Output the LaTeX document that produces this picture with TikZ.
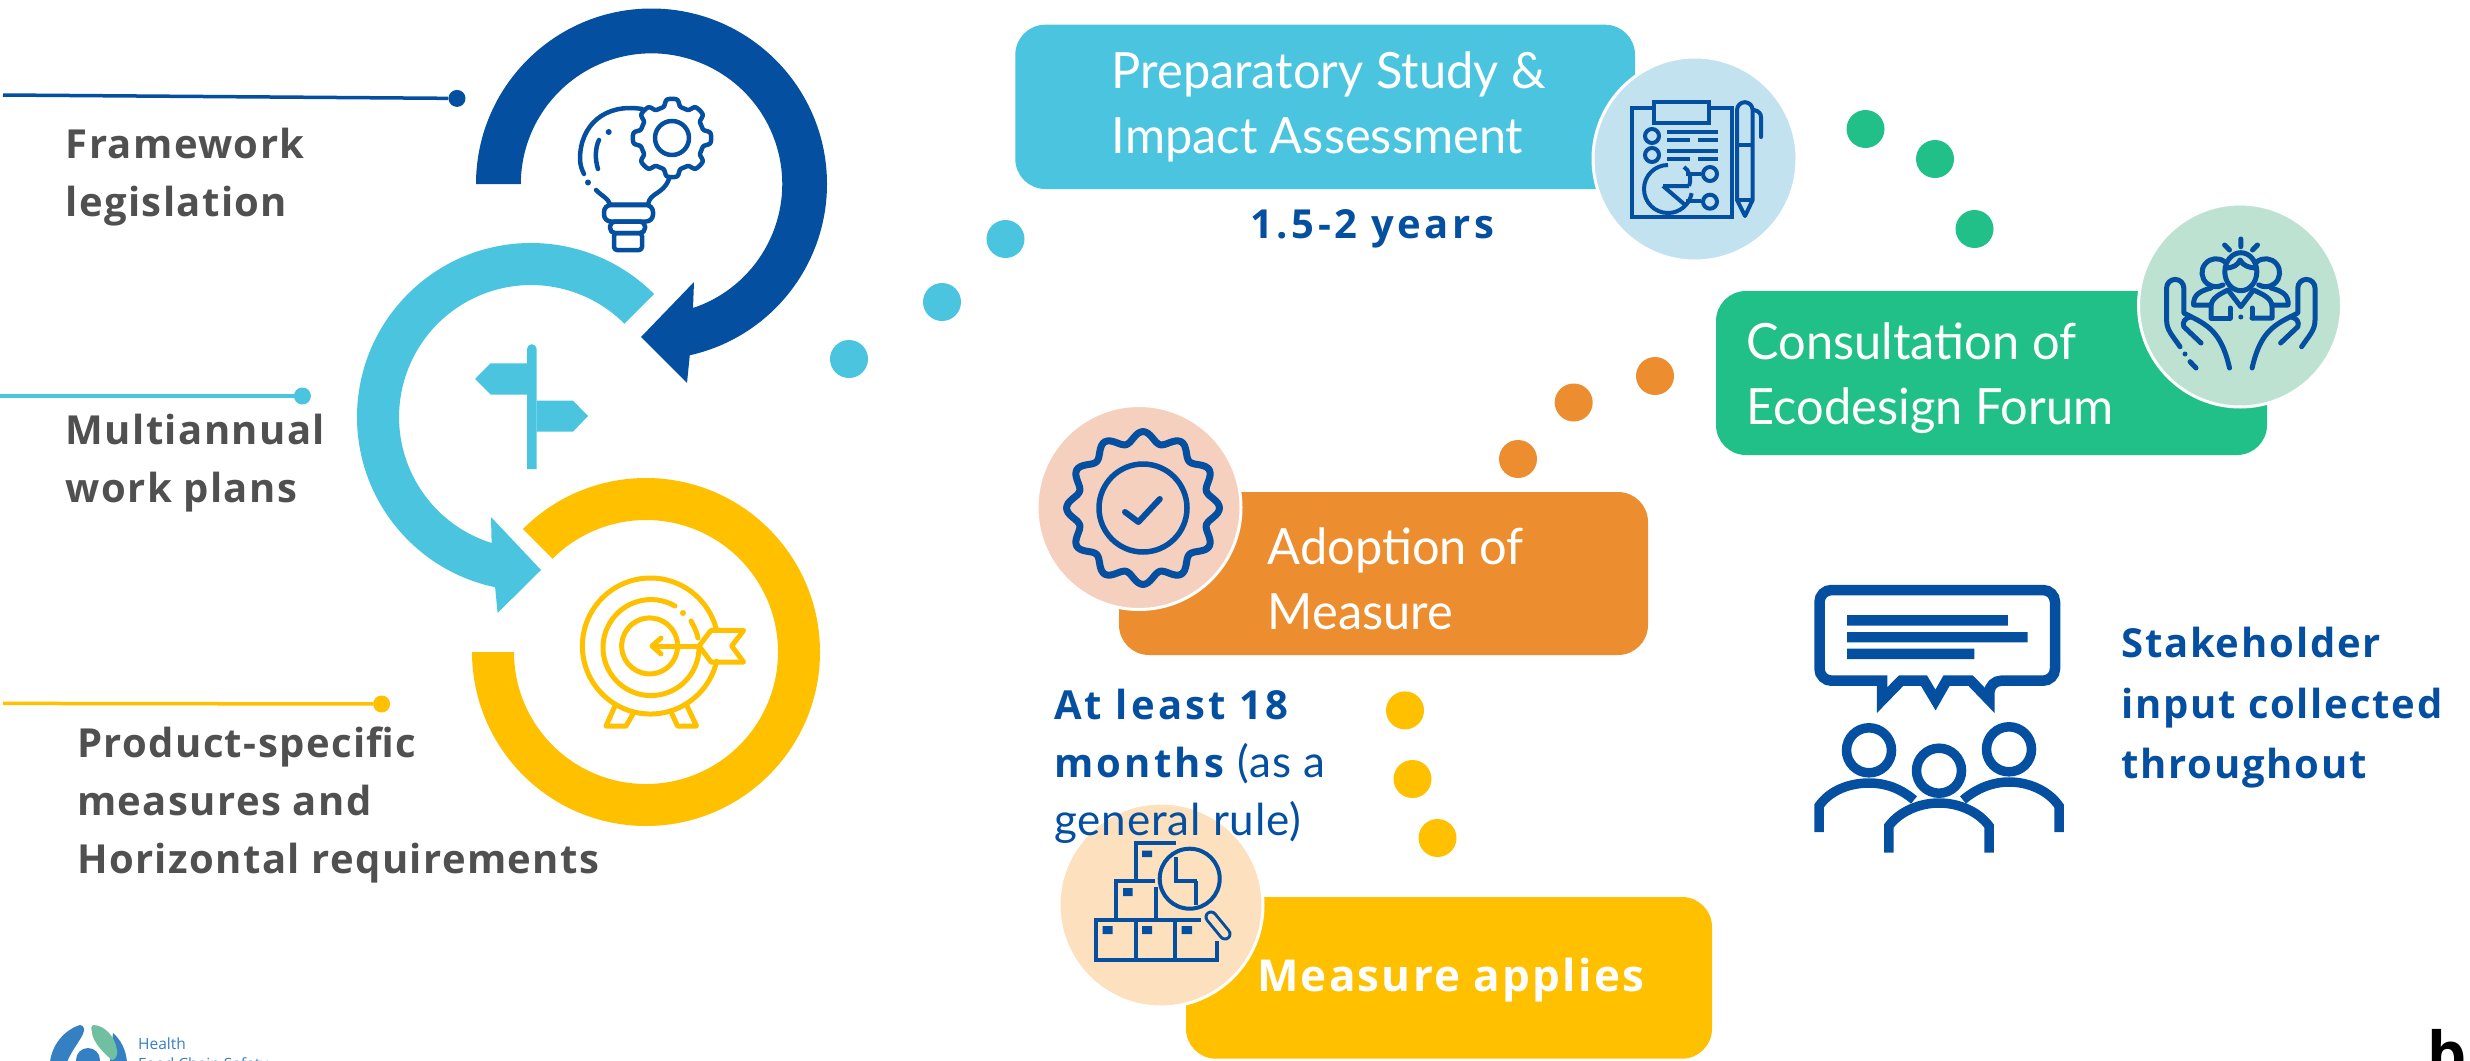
\documentclass[tikz,border=0pt]{standalone}
\usepackage{fontspec}
\setmainfont{Open Sans}
\newfontfamily\gill[FakeStretch=0.975]{Lato}
\newfontfamily\gillb[LetterSpace=2]{Lato}
\newfontfamily\osA[LetterSpace=3.5]{Open Sans}
\newfontfamily\osB[LetterSpace=5]{Open Sans}
\newfontfamily\osS[LetterSpace=4.5]{Open Sans}
\newfontfamily\osC[LetterSpace=8]{Open Sans}
\newfontfamily\osD[LetterSpace=9]{Open Sans}
\usetikzlibrary{calc}
\definecolor{navy}{HTML}{054FA0}
\definecolor{sky}{HTML}{4BC5DF}
\definecolor{gold}{HTML}{FFC000}
\definecolor{leaf}{HTML}{20C088}
\definecolor{tang}{HTML}{EC8E2F}
\definecolor{greyt}{HTML}{505050}
\definecolor{cskyl}{HTML}{C1E2EE}
\definecolor{cleafl}{HTML}{BDE2D1}
\definecolor{ctangl}{HTML}{F5D0BF}
\definecolor{cgoldl}{HTML}{FDE0BD}
\definecolor{logob}{HTML}{3580C3}
\definecolor{logog}{HTML}{6FBFA0}
\tikzset{
 box/.style={rounded corners=30pt},
 badge/.style={draw=white,line width=3pt},
 dotn/.style={circle,inner sep=0pt,minimum size=38pt},
 endn/.style={circle,inner sep=0pt,minimum size=17pt},
 lbl/.style={inner sep=0pt,align=left,anchor=north west,text=greyt,font=\osA\fontsize{40}{58}\selectfont\bfseries},
 ttl/.style={inner sep=0pt,align=left,anchor=north west,text=white,font=\gill\fontsize{50}{65}\selectfont},
 ink/.style={draw=navy,line width=4.5pt,line cap=round,line join=round,fill=none},
 handink/.style={draw=navy,line width=5pt,line cap=round,line join=round,fill=none},
 thin/.style={draw=navy,line width=4pt,line cap=butt,line join=miter,fill=none},
}
\begin{document}
\begin{tikzpicture}[x=1pt,y=1pt,yscale=-1]
\useasboundingbox (0,0) rectangle (2470,1060);
\clip (0,0) rectangle (2470,1060);
% rings
\fill[navy] (651.5,184)+(180:175.5pt) arc[start angle=180,end angle=437.4,radius=175.5pt] -- (687,383) -- (641,337) -- (694,282) -- (693,308) arc[start angle=431.5,end angle=180,radius=130.7pt] -- cycle;
\fill[sky] ($(531,417)+(-45:174pt)$) arc[start angle=-45,end angle=-258.1,radius=174pt] -- (497.6,613) -- (541,570) -- (491,517) -- (491.6,543) arc[start angle=-252.6,end angle=-45,radius=132pt] -- cycle;
\fill[gold] ($(646,652)+(225:174pt)$) arc[start angle=225,end angle=540,radius=174pt] -- ($(646,652)+(180:132pt)$) arc[start angle=540,end angle=225,radius=132pt] -- cycle;
% leader lines
\node[endn,fill=navy] (e1) at (457,98.4) {};
\coordinate (s1) at (3,95);
\draw[navy,line width=3.5pt] (s1) -- (e1);
\node[endn,fill=sky] (e2) at (302.4,396) {};
\coordinate (s2) at (0,396);
\draw[sky,line width=3.5pt] (s2) -- (e2);
\node[endn,fill=gold] (e3) at (381.6,704) {};
\coordinate (s3) at (3,703.4);
\draw[gold,line width=3.5pt] (s3) -- (e3);
% labels
\node[lbl] (l1) at (65.5,128) {Framework\\legislation};
\node[lbl] (l2) at (65.5,414) {Multiannual\\work plans};
\node[lbl] (l3) at (77,727) {Product-specific\\measures and\\Horizontal requirements};
% signpost
\fill[sky] (527,349) arc[start angle=180,end angle=360,radius=4.8pt] -- (536.6,469) -- (527,469) -- cycle;
\fill[sky] (527,363.4) -- (490.5,363.4) -- (475,379) -- (490.5,394.5) -- (527,394.5) -- cycle;
\fill[sky] (536.5,400.6) -- (573,400.6) -- (588,416) -- (573,431.7) -- (536.5,431.7) -- cycle;
% bulb icon
\draw[ink] plot[samples=240,domain=0:360,variable=\t] ({672+(35.5+3.7*tanh(2.5*cos(8*\t)))*cos(\t)},{138+(35.5+3.7*tanh(2.5*cos(8*\t)))*sin(\t)}) -- cycle;
\draw[ink] (672,138) circle[radius=17pt];
\draw[ink] (642,109) .. controls (605,103) and (580,125) .. (580,159) .. controls (580,165) and (582,170) .. (584,174);
\draw[ink] (596,190) .. controls (603,197) and (608,198) .. (610,204.5) -- (648,204.5) .. controls (650,192) and (663,195) .. (669,179);
\draw[ink] (599,140) .. controls (595,148) and (595,160) .. (598,169);
\fill[navy] (588,182.5) circle[radius=3pt] (608.7,132) circle[radius=3pt];
\draw[ink,rounded corners=7pt] (604,205) rectangle (653,221.5);
\draw[ink,rounded corners=5pt] (610,221.5) rectangle (645,233);
\draw[ink,rounded corners=3pt] (614,233) rectangle (642,250);
% target icon
\begin{scope}[gold,line width=5pt,line cap=round,line join=round]
\draw ($(650.4,646)+(-13:68pt)$) arc[start angle=-13,end angle=-347,radius=68pt];
\draw (675,606) arc[start angle=-60,end angle=-360,radius=48pt];
\draw (691,621) .. controls (695,628) and (697,633) .. (698,638);
\fill (683,613) circle[radius=3pt];
\draw (677.5,643) arc[start angle=-6,end angle=-354,radius=28pt];
\draw (654,646) -- (699,646);
\draw (661,638) -- (652,646) -- (661,654);
\draw (699,646) -- (711,630.4) -- (743.6,630.4) -- (731.7,646) -- (743.6,662) -- (711,662) -- cycle;
\draw (615,706) -- (606,726) -- (626,726) -- (633,714);
\draw (672,714) -- (677.5,726) -- (696.5,726) -- (687,706);
\end{scope}
% dots
\foreach \n/\c/\x/\y in {a/sky/849/359,b/sky/942/302,c/sky/1005.5/239,d/leaf/1865.5/129,e/leaf/1935/159,f/leaf/1974.5/229,g/tang/1655/376,h/tang/1573.7/402.5,i/tang/1518/459,j/gold/1405/710.4,k/gold/1412.5/779,l/gold/1437.5/838}
  \node[dotn,fill=\c] (dot\n) at (\x,\y) {};
% boxes
\fill[sky,box] (1015.3,24.7) rectangle (1635,189);
\draw[badge,fill=cskyl] (1695,159) circle[radius=102pt];
\fill[leaf,box] (1716,291) rectangle (2267,455);
\draw[badge,fill=cleafl] (2240,305.5) circle[radius=101.5pt];
\fill[tang,box] (1119,492) rectangle (1648,655);
\draw[badge,fill=ctangl] (1139,507.5) circle[radius=102pt];
\fill[gold,box] (1186,897) rectangle (1712,1058.7);
\draw[badge,fill=cgoldl] (1161,905) circle[radius=102pt];
% titles
\node[ttl] (t1) at (1111.5,51) {Preparatory Study \&\\Impact Assessment};
\node[ttl] (t2) at (1746.5,322) {Consultation of\\Ecodesign Forum};
\node[ttl] (t3) at (1267.5,527) {Adoption of\\Measure};
\node[inner sep=0pt,anchor=base west,text=white,font=\osB\fontsize{44}{50}\selectfont\bfseries] (t4) at (1257,991) {Measure applies};
\node[inner sep=0pt,anchor=base west,text=navy,font=\osD\fontsize{40}{50}\selectfont\bfseries] (n1) at (1250,238) {1.5-2 years};
\node[inner sep=0pt,align=left,anchor=north west,text=navy,font=\osC\fontsize{40}{58}\selectfont\bfseries] (n2) at (1054,689) {At least 18\\months {\gillb\fontsize{44}{58}\selectfont\mdseries(as a}\\{\gillb\fontsize{44}{58}\selectfont\mdseries general rule)}};
\node[inner sep=0pt,align=left,anchor=north west,text=navy,font=\osS\fontsize{40}{60.5}\selectfont\bfseries] (n3) at (2121,627) {Stakeholder\\input collected\\throughout};
% clipboard icon
\draw[thin] (1654,108) -- (1631.6,108) -- (1631.6,216.7) -- (1732,216.7) -- (1732,108) -- (1709,108);
\draw[thin] (1654,102) rectangle (1709,123);
\draw[thin] (1652,136) circle[radius=7pt] (1652,155) circle[radius=7pt] (1710,174) circle[radius=7pt] (1710,201.7) circle[radius=7pt];
\draw[thin] (1667,131.7) -- (1718,131.7) (1667,140) -- (1690,140) (1698,140) -- (1718,140) (1667,150.7) -- (1718,150.7) (1667,159.3) -- (1690,159.3) (1698,159.3) -- (1718,159.3) (1686,174) -- (1701,174) (1686,201) -- (1701,201);
\draw[thin] (1668,165) arc[start angle=-90,end angle=-350,radius=24pt] (1663,186) -- (1684,204) (1663,186) -- (1689,186) (1689,186) .. controls (1692,178) and (1689,170) .. (1684,167);
\draw[thin,line join=round] (1737,200) -- (1737,110) arc[start angle=180,end angle=360,radius=7.8pt] -- (1752.6,200) -- (1745,216) -- cycle;
\draw[thin] (1737,145) -- (1752.6,145) (1737,200) -- (1752.6,200);
\draw[thin,line cap=round] (1754,110) .. controls (1759,111) and (1761,114) .. (1761,117) -- (1761,137);
% hands icon
\draw[handink] (2240.8,239) -- (2240.8,246.7) (2224.6,245) -- (2229.5,250) (2257.5,245) -- (2252.5,250);
\draw[handink] (2240.8,271.7) ellipse[x radius=16pt,y radius=19pt];
\draw[handink] (2225.5,268) .. controls (2233,268) and (2238,265) .. (2240,260) .. controls (2243,266) and (2250,268) .. (2256,268);
\draw[handink] (2225,262) arc[start angle=-50,end angle=-300,radius=14pt];
\draw[handink] (2256.6,262) arc[start angle=230,end angle=480,radius=14pt];
\draw[handink] (2211,316.7) -- (2211,306.7) .. controls (2211,298) and (2220,294) .. (2228,290) -- (2240.8,306.7) -- (2253.5,290) .. controls (2262,294) and (2272,298) .. (2272,306.7) -- (2272,318) -- (2252,318);
\draw[handink] (2211,318) -- (2230,318) -- (2230,308);
\draw[handink] (2252,318) -- (2252,308);
\draw[handink] (2211,305) -- (2193.6,305) .. controls (2193,295) and (2200,291) .. (2211,288);
\draw[handink] (2272,305) -- (2288,305) .. controls (2289,295) and (2282,291) .. (2271,288);
\fill[navy] (2240.8,317) circle[radius=2.5pt];
\foreach \m in {1,-1}{
\begin{scope}[xshift=2240.8pt,xscale=\m,xshift=-2240.8pt]
\draw[handink] (2180,346.7) .. controls (2172,335) and (2166.6,330) .. (2166.6,320) -- (2166.6,288) arc[start angle=180,end angle=360,radius=8.6pt] -- (2183.8,313) -- (2191,316.7) .. controls (2210,326) and (2222,335) .. (2229.5,368);
\draw[handink] (2201,343) -- (2183.8,326.7) .. controls (2182,322) and (2185,318) .. (2191,316.7);
\end{scope}}
\fill[navy] (2185,354) circle[radius=2.5pt];
\draw[handink] (2190,361.7) -- (2196,368);
% seal icon
\draw[navy,line width=7pt,line join=round] plot[smooth cycle,samples=96,domain=0:356.25,variable=\t] ({1143+(71+5.5*cos(12*\t))*cos(\t)},{508+(71+5.5*cos(12*\t))*sin(\t)});
\draw[navy,line width=5.5pt] (1143,508) circle[radius=44pt];
\draw[navy,line width=6pt,line cap=round,line join=round] (1125,512) -- (1138.4,522) -- (1159.8,499);
% boxes icon
\draw[thin] (1216.5,941) -- (1216.5,960) -- (1096,960) -- (1096,920) -- (1201,920);
\draw[thin] (1136,920) -- (1136,960) (1175.4,920) -- (1175.4,960);
\draw[thin] (1116,920) -- (1116,881) -- (1155,881) (1156,887) -- (1156,920) (1196,881) -- (1196,905);
\draw[thin] (1136,881) -- (1136,843) -- (1176,843);
\fill[navy] (1142,850.5) rectangle (1152,857) (1123,888) rectangle (1132.6,896) (1102.7,926) rectangle (1112.5,934) (1142,926) rectangle (1152,934) (1181.7,926) rectangle (1192,934);
\draw[thin] (1189.7,878.7) circle[radius=30pt];
\draw[thin] (1176.3,857) -- (1176.3,881) -- (1197,881);
\draw[navy,line width=13pt,line cap=round] (1211,917) -- (1225,934);
\draw[cgoldl,line width=7pt,line cap=round] (1211,917) -- (1225,934);
% stakeholder icon
\draw[navy,line width=10.5pt,line join=miter] (1882.2,680.7) [rounded corners=12pt] -- (1819.5,680.7) -- (1819.5,590) -- (2055,590) -- (2055,680.7) -- (1989.3,680.7) [sharp corners] -- (1989.3,700) -- (1970.7,680.7) -- (1946.5,680.7) -- (1935.5,700) -- (1924,680.7) -- (1901,680.7) -- (1882.2,700) -- cycle;
\fill[navy] (1847,615) rectangle (2007.8,625.7) (1847,632) rectangle (2027.6,642.3) (1847,648.7) rectangle (1974.3,659);
\begin{scope}[navy,line width=9.5pt]
\draw (1869,750.3) circle[radius=22.5pt] (1939,770.7) circle[radius=22.5pt] (2009,749.3) circle[radius=22.5pt];
\draw (1819,832) -- (1819,806) .. controls (1830,790) and (1850,783) .. (1869,783) .. controls (1885,783) and (1900,788) .. (1914,800);
\draw (2059,832) -- (2059,806) .. controls (2048,790) and (2028,782) .. (2009,782) .. controls (1993,782) and (1977,788) .. (1963,800);
\draw (1888.8,852.7) -- (1888.8,826) .. controls (1900,811) and (1920,803) .. (1939,803) .. controls (1958,803) and (1978,811) .. (1989,826) -- (1989,852.7);
\end{scope}
% logos
\fill[logob] (80,1025) .. controls (84,1025) and (85,1030) .. (83,1034) .. controls (78,1044) and (72,1050) .. (67,1062) -- (50,1062) .. controls (52,1045) and (64,1030) .. (80,1025) -- cycle;
\fill[logob] (88,1060) circle[radius=12pt];
\fill[logob] (113,1033) .. controls (121,1040) and (126,1050) .. (127,1062) -- (110,1062) -- cycle;
\fill[logog] (93,1025) .. controls (104,1025) and (115,1036) .. (117,1050) .. controls (118,1056) and (115,1060) .. (112,1060) .. controls (102,1052) and (92,1040) .. (92,1032) .. controls (91,1028) and (91,1026) .. (93,1025) -- cycle;
\node[inner sep=0pt,anchor=base west,text=logob,font=\fontsize{15.5}{18}\selectfont] (lg) at (138,1049.6) {Health};
\node[inner sep=0pt,anchor=base west,text=logob,font=\fontsize{15.5}{18}\selectfont] (lg2) at (138,1069) {Food Chain Safety};
\node[inner sep=0pt,anchor=base west,text=black,font=\fontsize{62}{70}\selectfont\bfseries] (bb) at (2427,1076) {b};
\end{tikzpicture}
\end{document}
